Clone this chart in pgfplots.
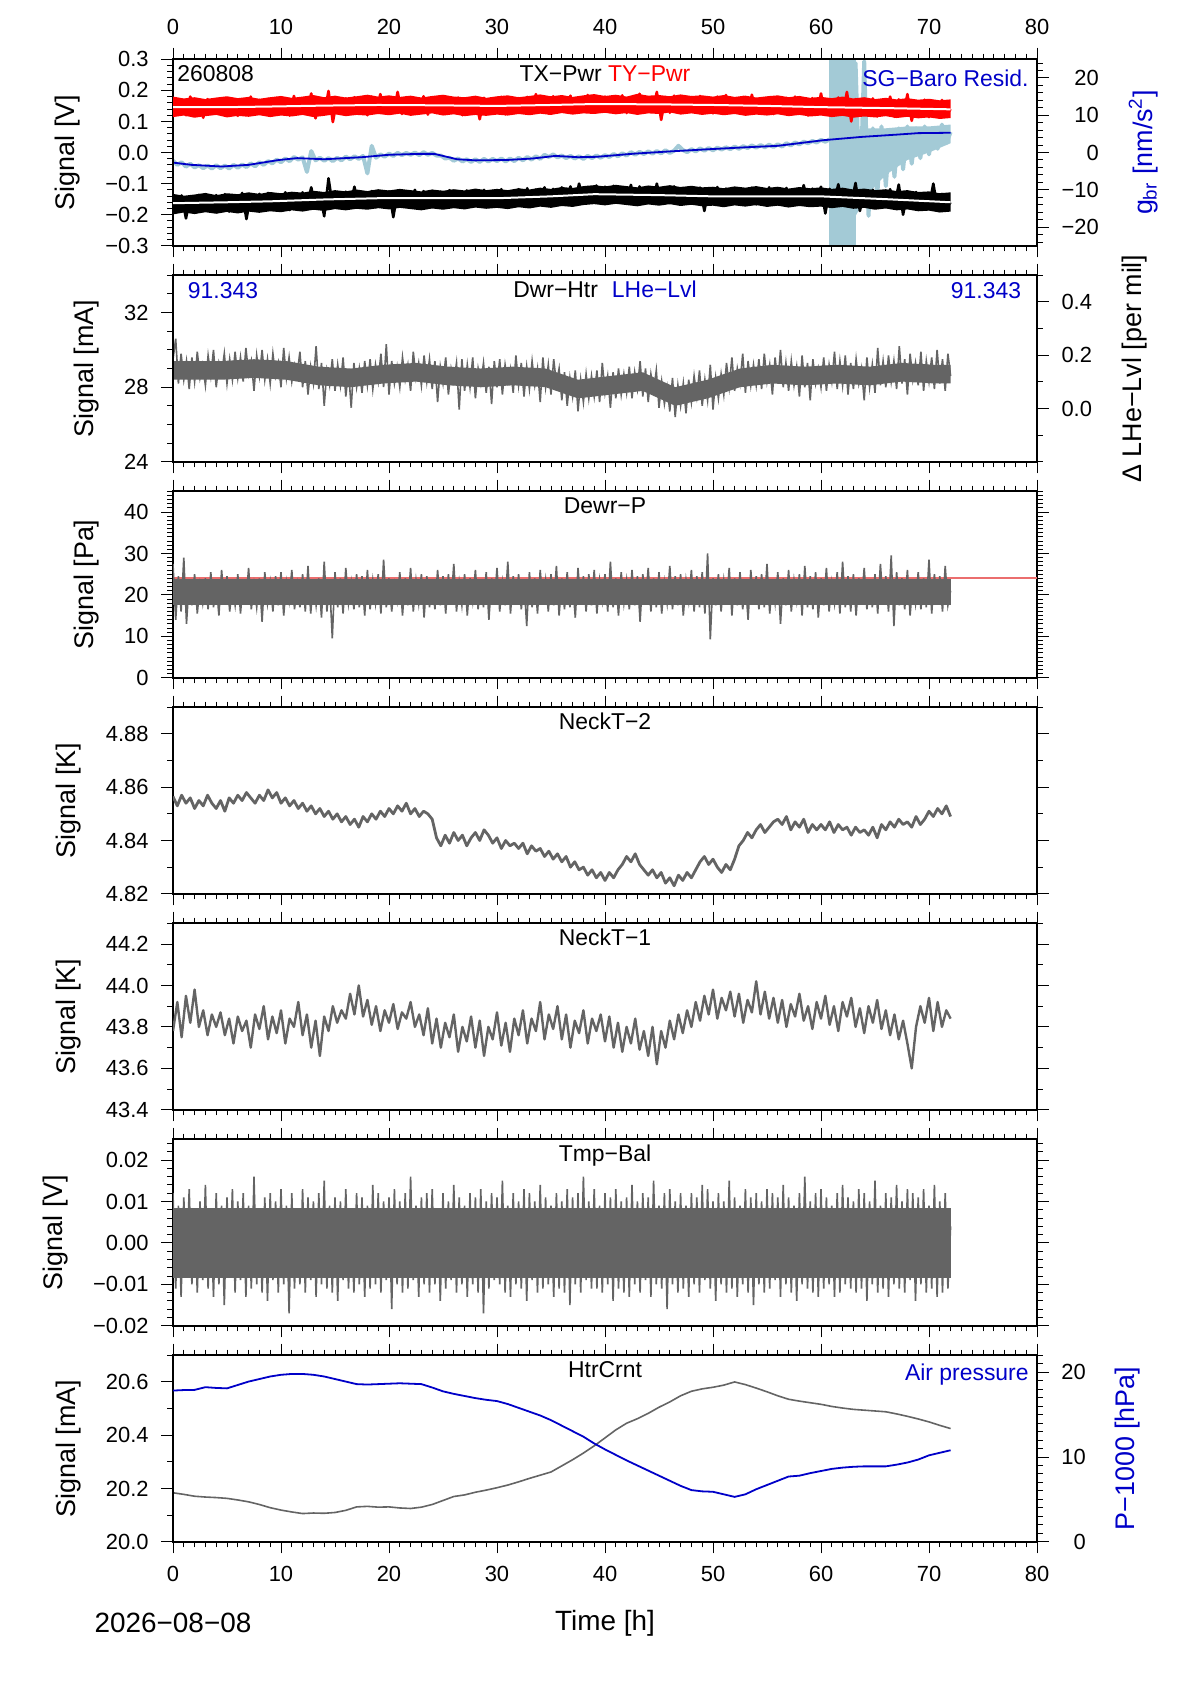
\documentclass[border=0pt]{standalone}
\usepackage{fontspec}
\setmainfont{Liberation Sans}
\usepackage{pgfplots}
\usepackage{pgfplotstable}
\pgfplotsset{compat=1.18}
\definecolor{sgray}{RGB}{100,100,100}
\definecolor{gblue}{RGB}{0,0,200}
\definecolor{lblue}{RGB}{163,202,214}
\definecolor{pred}{RGB}{255,0,0}
\definecolor{lred}{RGB}{235,110,110}
\newcommand\tickfont{\fontsize{11}{13}\selectfont}
\newcommand\ttlfont{\fontsize{11.5}{13}\selectfont}
\newcommand\labfont{\fontsize{13.5}{16}\selectfont}
\newcommand\botfont{\fontsize{14}{16}\selectfont}

% TY-Pwr spikes (step 0.4 h)
\pgfplotstableread[row sep=\\,header=false]{
0.165\\0.125\\0.170\\0.120\\0.180\\0.128\\0.168\\0.112\\0.172\\0.124\\
0.168\\0.126\\0.175\\0.121\\0.166\\0.118\\0.171\\0.127\\0.180\\0.122\\
0.169\\0.125\\0.173\\0.120\\0.176\\0.127\\0.170\\0.119\\0.182\\0.124\\
0.172\\0.128\\0.190\\0.110\\0.175\\0.124\\0.198\\0.098\\0.171\\0.126\\
0.174\\0.129\\0.178\\0.125\\0.173\\0.120\\0.180\\0.130\\0.188\\0.127\\
0.176\\0.128\\0.195\\0.124\\0.178\\0.131\\0.174\\0.126\\0.181\\0.122\\
0.173\\0.127\\0.178\\0.124\\0.171\\0.129\\0.177\\0.120\\0.174\\0.126\\
0.172\\0.107\\0.176\\0.125\\0.170\\0.128\\0.179\\0.123\\0.173\\0.127\\
0.175\\0.130\\0.179\\0.126\\0.188\\0.131\\0.176\\0.125\\0.181\\0.129\\
0.178\\0.133\\0.183\\0.128\\0.177\\0.135\\0.185\\0.130\\0.179\\0.132\\
0.180\\0.130\\0.176\\0.133\\0.184\\0.127\\0.178\\0.131\\0.189\\0.129\\
0.177\\0.132\\0.195\\0.105\\0.179\\0.128\\0.183\\0.131\\0.176\\0.130\\
0.178\\0.129\\0.182\\0.132\\0.175\\0.126\\0.180\\0.130\\0.185\\0.127\\
0.173\\0.128\\0.179\\0.125\\0.186\\0.130\\0.174\\0.127\\0.178\\0.124\\
0.171\\0.126\\0.176\\0.122\\0.180\\0.125\\0.172\\0.119\\0.175\\0.124\\
0.190\\0.121\\0.170\\0.118\\0.177\\0.123\\0.195\\0.100\\0.172\\0.120\\
0.168\\0.119\\0.174\\0.116\\0.167\\0.121\\0.180\\0.115\\0.171\\0.118\\
0.188\\0.102\\0.166\\0.117\\0.170\\0.114\\0.165\\0.118\\0.169\\0.120\\
0.140\\
}\typwr

% TX-Pwr spikes (step 0.4 h)
\pgfplotstableread[row sep=\\,header=false]{
-0.140\\-0.185\\-0.138\\-0.212\\-0.142\\-0.183\\-0.136\\-0.188\\-0.141\\-0.184\\
-0.137\\-0.182\\-0.134\\-0.190\\-0.139\\-0.181\\-0.130\\-0.214\\-0.138\\-0.183\\
-0.133\\-0.178\\-0.130\\-0.181\\-0.135\\-0.176\\-0.128\\-0.185\\-0.132\\-0.179\\
-0.128\\-0.174\\-0.112\\-0.177\\-0.130\\-0.205\\-0.083\\-0.175\\-0.127\\-0.173\\
-0.126\\-0.171\\-0.110\\-0.174\\-0.127\\-0.170\\-0.124\\-0.176\\-0.128\\-0.172\\
-0.125\\-0.208\\-0.122\\-0.172\\-0.126\\-0.169\\-0.120\\-0.174\\-0.124\\-0.171\\
-0.123\\-0.171\\-0.126\\-0.173\\-0.121\\-0.170\\-0.125\\-0.175\\-0.122\\-0.172\\
-0.124\\-0.169\\-0.120\\-0.172\\-0.123\\-0.168\\-0.118\\-0.171\\-0.125\\-0.167\\
-0.118\\-0.165\\-0.115\\-0.168\\-0.119\\-0.163\\-0.112\\-0.166\\-0.117\\-0.162\\
-0.112\\-0.159\\-0.109\\-0.162\\-0.100\\-0.157\\-0.111\\-0.160\\-0.106\\-0.158\\
-0.110\\-0.158\\-0.107\\-0.161\\-0.112\\-0.156\\-0.104\\-0.165\\-0.109\\-0.157\\
-0.112\\-0.162\\-0.100\\-0.160\\-0.115\\-0.163\\-0.109\\-0.159\\-0.114\\-0.161\\
-0.117\\-0.163\\-0.113\\-0.188\\-0.118\\-0.162\\-0.111\\-0.166\\-0.116\\-0.164\\
-0.116\\-0.164\\-0.119\\-0.161\\-0.113\\-0.167\\-0.117\\-0.163\\-0.112\\-0.165\\
-0.118\\-0.163\\-0.114\\-0.166\\-0.119\\-0.162\\-0.105\\-0.167\\-0.116\\-0.164\\
-0.110\\-0.196\\-0.117\\-0.165\\-0.102\\-0.168\\-0.121\\-0.163\\-0.098\\-0.188\\
-0.124\\-0.170\\-0.120\\-0.174\\-0.125\\-0.169\\-0.118\\-0.172\\-0.103\\-0.200\\
-0.130\\-0.176\\-0.127\\-0.179\\-0.131\\-0.175\\-0.100\\-0.181\\-0.133\\-0.177\\
-0.160\\
}\txpwr

% SG-Baro residual, raw (step 0.4 h)
\pgfplotstableread[row sep=\\,header=false]{
-2.2\\-3.3\\-2.6\\-3.8\\-3.0\\-4.0\\-3.4\\-4.2\\-3.5\\-4.3\\
-3.4\\-4.2\\-3.5\\-4.3\\-3.3\\-4.1\\-3.2\\-3.9\\-2.9\\-3.7\\
-2.6\\-3.3\\-2.3\\-2.9\\-1.9\\-2.6\\-1.6\\-2.3\\-1.2\\-1.9\\
-1.3\\-5.2\\0.4\\-2.1\\-1.4\\-2.2\\-1.5\\-2.3\\-1.4\\-2.1\\
-1.1\\-1.8\\-1.0\\-1.7\\-0.9\\-5.6\\1.8\\-1.4\\-0.5\\-1.1\\
-0.3\\-0.9\\-0.1\\-0.7\\-0.1\\-0.6\\0.0\\-0.7\\0.1\\-0.6\\
-0.1\\-0.8\\-0.8\\-1.6\\-1.4\\-2.2\\-1.6\\-2.4\\-1.8\\-2.5\\
-1.8\\-2.5\\-1.7\\-2.4\\-1.7\\-2.3\\-1.6\\-2.4\\-1.6\\-2.3\\
-1.4\\-2.1\\-1.2\\-1.9\\-1.0\\-1.7\\-0.6\\-1.2\\-0.5\\-1.3\\
-0.8\\-1.5\\-0.9\\-1.6\\-1.0\\-1.7\\-0.9\\-1.5\\-0.8\\-1.4\\
-0.7\\-1.2\\-0.4\\-1.0\\-0.2\\-0.8\\0.1\\-0.6\\0.2\\-0.4\\
0.3\\-0.3\\0.4\\-0.2\\0.6\\-0.1\\0.5\\1.8\\0.7\\0.1\\
0.9\\0.3\\1.1\\0.5\\1.2\\0.6\\1.3\\0.8\\1.4\\0.9\\
1.6\\1.0\\1.7\\1.2\\1.9\\1.3\\2.0\\1.4\\2.1\\1.5\\
2.2\\1.6\\2.5\\1.9\\2.7\\2.2\\2.9\\2.5\\3.1\\2.7\\
3.4\\2.9\\3.5\\3.0\\3.7\\3.2\\3.8\\3.4\\24.0\\-14.0\\
24.5\\-17.0\\6.5\\-12.0\\7.0\\-9.0\\6.0\\-6.5\\6.5\\-4.5\\
7.0\\-3.0\\6.5\\-1.5\\7.0\\-0.5\\6.5\\1.0\\7.5\\2.5\\
5.5\\
}\sgres

% Dwr-Htr (step 0.25 h)
\pgfplotstableread[row sep=\\,header=false]{
29.5\\30.6\\28.2\\29.8\\28.4\\29.4\\27.9\\29.6\\28.3\\29.9\\28.5\\29.2\\
28.1\\29.7\\28.6\\30.0\\28.0\\29.3\\28.7\\29.8\\28.2\\29.5\\28.4\\29.9\\
28.5\\29.6\\28.3\\30.1\\28.7\\29.4\\27.8\\29.7\\28.6\\30.0\\28.4\\29.5\\
28.2\\29.8\\28.6\\29.3\\28.0\\30.1\\28.5\\29.6\\28.3\\29.2\\28.7\\29.9\\
28.0\\29.4\\27.6\\29.1\\28.2\\30.2\\27.9\\29.3\\27.0\\28.9\\28.1\\29.5\\
27.8\\29.2\\28.1\\29.6\\27.5\\28.9\\26.9\\29.3\\28.0\\29.0\\27.7\\29.4\\
28.1\\29.5\\27.9\\29.2\\28.3\\29.8\\28.0\\30.3\\27.6\\29.4\\28.2\\29.1\\
28.0\\29.6\\28.4\\29.2\\27.8\\29.9\\28.5\\29.3\\28.1\\29.7\\28.3\\29.5\\
27.9\\29.4\\27.2\\29.1\\28.2\\29.6\\27.6\\29.0\\28.3\\29.3\\26.8\\29.5\\
27.8\\29.2\\28.0\\29.6\\27.4\\29.0\\28.2\\29.3\\27.7\\29.1\\27.1\\29.4\\
28.0\\29.5\\27.6\\29.2\\28.3\\29.0\\27.7\\29.7\\28.1\\29.3\\27.5\\29.1\\
27.9\\29.4\\28.1\\29.0\\27.2\\29.6\\28.0\\29.2\\27.6\\29.5\\28.2\\29.0\\
27.3\\28.8\\27.0\\28.5\\27.5\\28.9\\26.7\\28.4\\27.2\\28.7\\27.4\\28.6\\
27.5\\28.9\\27.2\\29.3\\27.7\\28.6\\26.9\\28.8\\27.4\\29.0\\27.6\\28.7\\
27.7\\29.1\\27.4\\28.8\\27.9\\29.4\\27.5\\29.0\\27.2\\28.7\\27.8\\28.9\\
26.9\\28.3\\27.1\\28.0\\26.7\\28.5\\26.4\\28.1\\27.0\\28.2\\26.6\\28.4\\
27.2\\28.6\\27.5\\28.9\\27.0\\28.4\\27.3\\29.2\\26.8\\28.5\\27.4\\28.7\\
27.6\\29.3\\28.0\\29.6\\27.8\\29.0\\28.2\\29.8\\27.7\\29.4\\28.1\\29.2\\
28.1\\29.5\\27.9\\29.8\\28.3\\29.2\\27.6\\29.6\\28.2\\30.0\\28.0\\29.3\\
27.8\\29.4\\28.1\\29.1\\27.5\\29.7\\28.0\\29.3\\27.3\\29.5\\28.2\\29.0\\
28.0\\29.6\\27.8\\29.2\\28.3\\29.9\\27.9\\29.4\\28.1\\29.7\\27.6\\29.3\\
27.9\\29.5\\28.2\\29.0\\27.3\\29.6\\28.0\\29.2\\27.7\\30.1\\28.1\\29.4\\
28.0\\29.7\\28.3\\29.4\\27.9\\30.2\\28.2\\29.5\\27.6\\29.8\\28.4\\29.3\\
28.1\\29.9\\27.8\\29.4\\28.3\\29.6\\27.9\\30.0\\28.2\\29.5\\27.8\\29.8\\
28.6\\
}\dwrhtr

% Dewr-P (step 0.25 h)
\pgfplotstableread[row sep=\\,header=false]{
27.5\\14.0\\24.5\\16.0\\29.0\\13.0\\23.5\\17.5\\25.0\\15.5\\22.5\\18.0\\
24.0\\16.5\\25.5\\17.0\\23.0\\15.0\\26.0\\18.5\\24.5\\16.0\\22.0\\17.5\\
25.0\\15.5\\23.5\\18.0\\26.5\\16.5\\22.5\\17.0\\24.0\\13.5\\25.5\\18.0\\
23.0\\16.0\\24.5\\17.5\\25.5\\15.0\\23.0\\18.5\\26.0\\16.5\\22.5\\17.0\\
25.0\\16.0\\27.0\\15.5\\23.5\\17.5\\24.0\\14.5\\28.0\\16.0\\23.0\\9.5\\
25.5\\17.0\\24.0\\15.5\\26.5\\18.0\\23.0\\16.5\\25.0\\17.0\\24.5\\15.0\\
26.0\\16.5\\23.5\\18.0\\25.0\\15.5\\28.5\\17.0\\24.0\\16.0\\22.5\\18.5\\
25.5\\15.0\\24.0\\17.5\\26.5\\16.0\\23.5\\18.0\\25.0\\14.5\\24.5\\17.0\\
23.5\\16.5\\26.0\\17.5\\24.5\\15.5\\25.0\\18.0\\27.5\\16.0\\23.0\\17.5\\
25.0\\15.0\\24.0\\18.5\\26.0\\16.5\\23.5\\17.0\\25.5\\14.0\\24.0\\18.0\\
26.5\\16.0\\23.0\\17.5\\28.0\\15.5\\24.5\\18.0\\25.0\\16.5\\23.5\\12.5\\
25.5\\17.0\\24.0\\15.5\\26.0\\18.0\\23.5\\16.0\\25.0\\17.5\\27.0\\15.0\\
24.0\\16.5\\25.5\\17.0\\23.0\\14.5\\26.5\\18.0\\24.5\\16.0\\25.0\\17.5\\
26.0\\15.5\\23.5\\18.5\\25.0\\16.0\\28.0\\17.0\\24.0\\15.0\\25.5\\18.0\\
23.5\\16.5\\26.0\\17.5\\24.5\\13.5\\25.0\\18.0\\26.5\\16.0\\24.0\\17.0\\
25.5\\15.5\\23.0\\18.0\\27.0\\16.5\\24.5\\17.5\\25.0\\15.0\\23.5\\18.5\\
26.0\\16.0\\24.5\\17.0\\25.5\\15.5\\30.0\\9.3\\24.0\\17.5\\25.0\\16.0\\
23.5\\18.0\\26.5\\15.0\\24.0\\17.5\\25.5\\16.5\\23.0\\14.0\\26.0\\18.0\\
24.5\\16.5\\25.0\\17.0\\27.5\\15.5\\23.5\\18.0\\25.5\\13.0\\24.0\\17.5\\
26.0\\16.0\\23.5\\18.5\\25.0\\15.0\\27.0\\17.0\\24.5\\16.5\\25.5\\14.5\\
24.0\\17.5\\26.5\\16.0\\23.0\\18.0\\25.5\\15.5\\28.0\\17.0\\24.5\\16.0\\
25.0\\15.0\\24.0\\18.5\\26.5\\16.5\\23.5\\17.0\\25.0\\15.5\\27.5\\18.0\\
24.5\\16.0\\29.5\\12.5\\25.5\\17.5\\24.0\\16.5\\26.0\\15.0\\23.5\\18.0\\
25.5\\16.5\\24.0\\17.0\\28.5\\15.5\\25.0\\18.0\\24.5\\16.0\\27.0\\17.5\\
21.0\\
}\dewrp

% NeckT-2 (step 0.4 h)
\pgfplotstableread[row sep=\\,header=false]{
4.8565\\4.853\\4.857\\4.854\\4.856\\4.852\\4.855\\4.853\\4.857\\4.854\\
4.852\\4.855\\4.851\\4.856\\4.854\\4.857\\4.855\\4.858\\4.856\\4.854\\
4.857\\4.855\\4.859\\4.856\\4.858\\4.854\\4.856\\4.853\\4.855\\4.852\\
4.854\\4.851\\4.853\\4.850\\4.852\\4.849\\4.851\\4.848\\4.850\\4.847\\
4.849\\4.846\\4.848\\4.845\\4.849\\4.847\\4.850\\4.848\\4.851\\4.849\\
4.852\\4.850\\4.853\\4.851\\4.854\\4.850\\4.852\\4.849\\4.851\\4.850\\
4.848\\4.841\\4.838\\4.842\\4.839\\4.843\\4.840\\4.842\\4.838\\4.841\\
4.843\\4.840\\4.844\\4.842\\4.839\\4.841\\4.837\\4.840\\4.838\\4.839\\
4.837\\4.839\\4.835\\4.838\\4.836\\4.837\\4.834\\4.836\\4.833\\4.835\\
4.832\\4.834\\4.830\\4.832\\4.829\\4.830\\4.827\\4.829\\4.826\\4.828\\
4.825\\4.828\\4.826\\4.829\\4.831\\4.834\\4.832\\4.835\\4.831\\4.829\\
4.827\\4.829\\4.826\\4.828\\4.824\\4.826\\4.823\\4.827\\4.825\\4.828\\
4.826\\4.829\\4.832\\4.834\\4.831\\4.833\\4.830\\4.828\\4.831\\4.829\\
4.833\\4.838\\4.840\\4.843\\4.841\\4.844\\4.846\\4.843\\4.845\\4.847\\
4.848\\4.846\\4.849\\4.844\\4.847\\4.845\\4.848\\4.843\\4.846\\4.844\\
4.846\\4.844\\4.847\\4.843\\4.846\\4.844\\4.845\\4.842\\4.845\\4.843\\
4.844\\4.842\\4.845\\4.841\\4.846\\4.844\\4.847\\4.845\\4.848\\4.846\\
4.847\\4.845\\4.849\\4.846\\4.848\\4.851\\4.849\\4.852\\4.850\\4.853\\
4.849\\
}\neckb

% NeckT-1 (step 0.4 h)
\pgfplotstableread[row sep=\\,header=false]{
43.78\\43.92\\43.75\\43.95\\43.82\\43.98\\43.80\\43.88\\43.76\\43.86\\
43.80\\43.87\\43.76\\43.84\\43.72\\43.85\\43.78\\43.83\\43.70\\43.86\\
43.79\\43.90\\43.74\\43.85\\43.77\\43.88\\43.72\\43.84\\43.80\\43.92\\
43.76\\43.86\\43.70\\43.83\\43.66\\43.85\\43.78\\43.90\\43.82\\43.88\\
43.84\\43.96\\43.86\\44.00\\43.85\\43.93\\43.81\\43.90\\43.78\\43.88\\
43.82\\43.91\\43.79\\43.87\\43.84\\43.92\\43.80\\43.86\\43.76\\43.89\\
43.72\\43.84\\43.70\\43.82\\43.75\\43.86\\43.68\\43.80\\43.73\\43.85\\
43.70\\43.83\\43.66\\43.80\\43.74\\43.87\\43.71\\43.82\\43.68\\43.84\\
43.76\\43.88\\43.72\\43.84\\43.78\\43.92\\43.74\\43.86\\43.79\\43.90\\
43.74\\43.86\\43.70\\43.83\\43.77\\43.88\\43.72\\43.84\\43.78\\43.86\\
43.73\\43.85\\43.70\\43.82\\43.68\\43.80\\43.72\\43.84\\43.69\\43.78\\
43.66\\43.80\\43.62\\43.78\\43.70\\43.83\\43.74\\43.86\\43.77\\43.88\\
43.80\\43.92\\43.83\\43.95\\43.86\\43.98\\43.84\\43.94\\43.88\\43.97\\
43.85\\43.96\\43.82\\43.93\\43.87\\44.02\\43.86\\43.97\\43.84\\43.94\\
43.82\\43.93\\43.80\\43.91\\43.85\\43.96\\43.83\\43.90\\43.79\\43.92\\
43.84\\43.95\\43.81\\43.90\\43.78\\43.92\\43.85\\43.94\\43.80\\43.89\\
43.77\\43.90\\43.82\\43.93\\43.79\\43.88\\43.76\\43.86\\43.74\\43.83\\
43.72\\43.60\\43.80\\43.90\\43.82\\43.94\\43.78\\43.92\\43.80\\43.88\\
43.84\\
}\necka

% Tmp-Bal (step 0.25 h)
\pgfplotstableread[row sep=\\,header=false]{
0.012\\-0.011\\0.009\\-0.013\\0.011\\-0.008\\0.013\\-0.010\\0.007\\-0.012\\0.010\\-0.009\\
0.014\\-0.011\\0.008\\-0.013\\0.012\\-0.010\\0.009\\-0.015\\0.011\\-0.008\\0.013\\-0.012\\
0.010\\-0.009\\0.012\\-0.013\\0.009\\-0.011\\0.016\\-0.010\\0.008\\-0.012\\0.011\\-0.014\\
0.012\\-0.009\\0.010\\-0.012\\0.013\\-0.010\\0.009\\-0.017\\0.012\\-0.011\\0.008\\-0.010\\
0.013\\-0.012\\0.011\\-0.009\\0.010\\-0.013\\0.012\\-0.010\\0.015\\-0.011\\0.009\\-0.012\\
0.011\\-0.014\\0.010\\-0.009\\0.013\\-0.011\\0.008\\-0.012\\0.012\\-0.010\\0.011\\-0.013\\
0.009\\-0.011\\0.014\\-0.010\\0.012\\-0.012\\0.010\\-0.009\\0.011\\-0.016\\0.013\\-0.010\\
0.010\\-0.012\\0.012\\-0.011\\0.016\\-0.009\\0.009\\-0.013\\0.011\\-0.010\\0.012\\-0.012\\
0.013\\-0.010\\0.008\\-0.014\\0.012\\-0.011\\0.010\\-0.009\\0.014\\-0.012\\0.011\\-0.010\\
0.009\\-0.013\\0.012\\-0.010\\0.011\\-0.012\\0.013\\-0.017\\0.010\\-0.011\\0.012\\-0.009\\
0.011\\-0.010\\0.015\\-0.012\\0.009\\-0.013\\0.012\\-0.010\\0.010\\-0.011\\0.013\\-0.014\\
0.012\\-0.009\\0.010\\-0.012\\0.014\\-0.011\\0.011\\-0.010\\0.009\\-0.013\\0.012\\-0.011\\
0.010\\-0.012\\0.013\\-0.015\\0.011\\-0.010\\0.012\\-0.012\\0.016\\-0.009\\0.010\\-0.011\\
0.013\\-0.011\\0.009\\-0.012\\0.012\\-0.010\\0.011\\-0.014\\0.013\\-0.011\\0.010\\-0.012\\
0.011\\-0.013\\0.014\\-0.010\\0.010\\-0.012\\0.012\\-0.009\\0.011\\-0.013\\0.015\\-0.010\\
0.009\\-0.011\\0.012\\-0.016\\0.013\\-0.010\\0.010\\-0.012\\0.012\\-0.011\\0.009\\-0.013\\
0.012\\-0.010\\0.011\\-0.012\\0.014\\-0.009\\0.013\\-0.011\\0.010\\-0.014\\0.012\\-0.010\\
0.010\\-0.012\\0.015\\-0.011\\0.011\\-0.013\\0.009\\-0.010\\0.013\\-0.012\\0.011\\-0.015\\
0.012\\-0.010\\0.010\\-0.012\\0.013\\-0.011\\0.012\\-0.009\\0.011\\-0.013\\0.014\\-0.010\\
0.011\\-0.012\\0.009\\-0.014\\0.012\\-0.010\\0.016\\-0.011\\0.010\\-0.012\\0.012\\-0.013\\
0.013\\-0.011\\0.011\\-0.010\\0.009\\-0.013\\0.012\\-0.012\\0.014\\-0.010\\0.011\\-0.011\\
0.010\\-0.012\\0.013\\-0.011\\0.012\\-0.014\\0.010\\-0.010\\0.015\\-0.012\\0.009\\-0.011\\
0.012\\-0.013\\0.011\\-0.010\\0.014\\-0.011\\0.010\\-0.012\\0.013\\-0.009\\0.012\\-0.014\\
0.011\\-0.010\\0.013\\-0.012\\0.009\\-0.011\\0.014\\-0.013\\0.010\\-0.012\\0.012\\-0.011\\
0.004\\
}\tmpbal

\pgfplotsset{
  panel/.style={
    scale only axis, width=432bp, height=93.25bp, anchor=south west,
    xmin=0, xmax=80,
    xtick={0,10,20,30,40,50,60,70,80},
    minor xtick={0,1,...,80},
    xticklabels={},
    scaled ticks=false,
    tick align=outside,
    major tick length=5.8bp, minor tick length=2.8bp,
    tick style={line width=0.5bp, black},
    axis line style={line width=1.1bp},
    ticklabel style={font=\tickfont, inner sep=0pt},
    xticklabel shift=6.2bp, yticklabel shift=6.2bp,
    ylabel style={font=\labfont, inner sep=0pt},
    ylabel shift=12.3bp,
  },
}
\tikzset{
  ttl/.style={font=\ttlfont, anchor=base, inner sep=0pt, yshift=-11.2bp},
  rlab/.style={font=\labfont, text=gblue, rotate=90, anchor=north, inner sep=0pt},
}

\begin{document}
\begin{tikzpicture}
\path[use as bounding box] (0,0) rectangle (595bp,842bp);

% ---------------- Panel 1 (right axis, drawn first) ----------------
\begin{axis}[panel, at={(86.5bp,719.1bp)}, clip mode=individual, hide x axis, ytick pos=right, yticklabel pos=right,
  ymin=-25, ymax=25, ytick={-20,-10,0,10,20}, yticklabels={−20,−10,0,10,20},
  minor ytick={-24,-22,...,24},
  yticklabel style={text width=18.7bp, align=right}]
\addplot[fill=lblue, draw=none] coordinates {(60.7,-25) (63.2,-25) (63.2,25) (60.7,25)};
\addplot[fill=lblue, draw=none] coordinates {(63.2,6) (64,6.5) (66,6.5) (68,7) (70,7) (72,7.5) (72,2.5) (70,0) (68,-2) (66,-6) (65,-9) (64,-13) (63.2,-17)};
\addplot[lblue, line width=2bp, line join=round] table[x expr=\coordindex*0.4, y index=0] {\sgres};
\addplot[gblue, line width=0.9bp] coordinates {(0,-2.7) (1.7,-3.3) (4.5,-3.75) (7,-3.3) (9.8,-2.0) (11.5,-1.5) (14,-1.8) (17.5,-1.25) (20,-0.6) (22.8,-0.36) (24.2,-0.36) (26.3,-1.8) (28,-2.1) (30.9,-2.0) (33.3,-1.6) (35.4,-0.9) (37.5,-1.25) (39.2,-1.15) (42.7,-0.3) (46,0.3) (49.7,0.9) (53,1.4) (56,1.8) (60.2,3.3) (63.8,4.2) (67,4.8) (69,5.2) (72,5.3)};
\node[ttl, anchor=base east, xshift=-4bp, yshift=-2.3bp, text=gblue] at (rel axis cs:1,1) {SG−Baro Resid.};
\node[xshift=45.7bp, rlab] at (rel axis cs:1,0.5) {g\textsubscript{br} [nm/s\textsuperscript{2}]};
\end{axis}
\begin{axis}[panel, at={(86.5bp,719.1bp)}, ytick pos=left,
  xticklabel pos=right, xticklabels={0,10,20,30,40,50,60,70,80},
  ymin=-0.3, ymax=0.3, ytick={-0.3,-0.2,-0.1,0,0.1,0.2,0.3},
  yticklabels={−0.3,−0.2,−0.1,0.0,0.1,0.2,0.3}, minor y tick num=4,
  ylabel={Signal [V]}]
\addplot[fill=pred, draw=none] coordinates {(0,.180) (1,.174) (2,.178) (3,.172) (4,.177) (5,.181) (6,.175) (7,.179) (8,.173) (9,.178) (10,.182) (11,.176) (12,.180) (13,.185) (14,.178) (15,.183) (16,.177) (17,.181) (18,.186) (19,.180) (20,.184) (21,.179) (22,.183) (23,.177) (24,.182) (25,.186) (26,.180) (27,.178) (28,.183) (29,.176) (30,.181) (31,.184) (32,.178) (33,.182) (34,.187) (35,.181) (36,.185) (37,.179) (38,.184) (39,.188) (40,.182) (41,.186) (42,.180) (43,.189) (44,.183) (45,.185) (46,.181) (47,.187) (48,.182) (49,.184) (50,.180) (51,.185) (52,.179) (53,.183) (54,.177) (55,.181) (56,.184) (57,.178) (58,.182) (59,.176) (60,.179) (61,.175) (62,.180) (63,.174) (64,.178) (65,.172) (66,.176) (67,.171) (68,.175) (69,.170) (70,.173) (71,.168) (72,.171)
 (72,.111) (71,.108) (70,.113) (69,.110) (68,.115) (67,.111) (66,.117) (65,.113) (64,.116) (63,.112) (62,.118) (61,.114) (60,.119) (59,.116) (58,.121) (57,.117) (56,.123) (55,.119) (54,.122) (53,.118) (52,.124) (51,.120) (50,.125) (49,.121) (48,.126) (47,.122) (46,.129) (45,.124) (44,.126) (43,.121) (42,.127) (41,.123) (40,.128) (39,.124) (38,.126) (37,.122) (36,.127) (35,.121) (34,.125) (33,.120) (32,.124) (31,.119) (30,.122) (29,.118) (28,.121) (27,.117) (26,.123) (25,.119) (24,.126) (23,.122) (22,.118) (21,.125) (20,.120) (19,.124) (18,.119) (17,.121) (16,.117) (15,.123) (14,.118) (13,.114) (12,.121) (11,.116) (10,.119) (9,.114) (8,.120) (7,.115) (6,.118) (5,.113) (4,.121) (3,.117) (2,.112) (1,.119) (0,.114)};
\addplot[pred, line width=1.3bp, line join=round] table[x expr=\coordindex*0.4, y index=0] {\typwr};
\addplot[white, line width=1bp] coordinates {(0,0.146) (5,0.146) (9,0.148) (14,0.151) (19,0.153) (24,0.152) (30,0.150) (35,0.153) (39,0.156) (45,0.155) (50,0.153) (55,0.150) (60,0.146) (66,0.143) (72,0.139)};
\addplot[fill=black, draw=none] coordinates {(0,-.133) (1,-.139) (2,-.135) (3,-.130) (4,-.137) (5,-.131) (6,-.134) (7,-.128) (8,-.133) (9,-.127) (10,-.131) (11,-.126) (12,-.129) (13,-.123) (14,-.127) (15,-.121) (16,-.125) (17,-.119) (18,-.124) (19,-.118) (20,-.122) (21,-.117) (22,-.121) (23,-.125) (24,-.119) (25,-.123) (26,-.118) (27,-.122) (28,-.116) (29,-.121) (30,-.117) (31,-.121) (32,-.115) (33,-.119) (34,-.113) (35,-.117) (36,-.111) (37,-.114) (38,-.108) (39,-.105) (40,-.109) (41,-.104) (42,-.108) (43,-.112) (44,-.106) (45,-.110) (46,-.105) (47,-.111) (48,-.107) (49,-.112) (50,-.110) (51,-.115) (52,-.109) (53,-.113) (54,-.108) (55,-.114) (56,-.110) (57,-.116) (58,-.111) (59,-.115) (60,-.112) (61,-.117) (62,-.113) (63,-.119) (64,-.116) (65,-.121) (66,-.118) (67,-.124) (68,-.121) (69,-.127) (70,-.125) (71,-.131) (72,-.128)
 (72,-.190) (71,-.193) (70,-.187) (69,-.189) (68,-.183) (67,-.186) (66,-.180) (65,-.184) (64,-.178) (63,-.181) (62,-.175) (61,-.179) (60,-.174) (59,-.176) (58,-.172) (57,-.177) (56,-.171) (55,-.175) (54,-.169) (53,-.174) (52,-.170) (51,-.176) (50,-.171) (49,-.173) (48,-.168) (47,-.172) (46,-.166) (45,-.171) (44,-.167) (43,-.173) (42,-.169) (41,-.165) (40,-.170) (39,-.166) (38,-.169) (37,-.175) (36,-.172) (35,-.178) (34,-.174) (33,-.180) (32,-.176) (31,-.182) (30,-.178) (29,-.181) (28,-.177) (27,-.183) (26,-.179) (25,-.184) (24,-.180) (23,-.186) (22,-.182) (21,-.178) (20,-.183) (19,-.179) (18,-.184) (17,-.181) (16,-.186) (15,-.182) (14,-.188) (13,-.184) (12,-.190) (11,-.186) (10,-.192) (9,-.189) (8,-.194) (7,-.190) (6,-.196) (5,-.191) (4,-.197) (3,-.192) (2,-.198) (1,-.193) (0,-.199)};
\addplot[black, line width=1.3bp, line join=round] table[x expr=\coordindex*0.4, y index=0] {\txpwr};
\addplot[white, line width=1bp] coordinates {(0,-0.163) (5,-0.160) (9,-0.157) (14,-0.151) (19,-0.147) (25,-0.147) (30,-0.147) (35,-0.141) (39,-0.134) (45,-0.137) (50,-0.141) (55,-0.141) (60,-0.141) (66,-0.150) (72,-0.160)};
\node[ttl] at (rel axis cs:0.5,1) {TX−Pwr \textcolor{pred}{TY−Pwr}};
\node[ttl, anchor=base west, xshift=2bp] at (rel axis cs:0,1) {260808};
\end{axis}

% ---------------- Panel 2 ----------------
\begin{axis}[panel, at={(86.5bp,611.1bp)}, ytick pos=left,
  ymin=24, ymax=34, ytick={24,28,32}, yticklabels={24,28,32},
  minor ytick={25,26,27,29,30,31,33,34}, ylabel={Signal [mA]}]
\addplot[fill=sgray, draw=none] coordinates {(0,29.4) (1.5,29.4) (4.5,29.4) (7.5,29.5) (10.5,29.4) (13.5,29.1) (16.5,29.0) (19.5,29.2) (22.5,29.3) (25.5,29.1) (28.5,29.0) (31.5,29.1) (34.5,29.0) (37.5,28.4) (40.5,28.6) (43.5,28.8) (46.5,28.0) (49.5,28.4) (52.5,29.0) (55.5,29.2) (58.5,29.1) (61.5,29.2) (64.5,29.1) (67.5,29.3) (70.5,29.2) (72,29.2) (72,28.2) (70.5,28.2) (67.5,28.3) (64.5,28.1) (61.5,28.2) (58.5,28.1) (55.5,28.2) (52.5,28.0) (49.5,27.4) (46.5,27.0) (43.5,27.8) (40.5,27.6) (37.5,27.4) (34.5,28.0) (31.5,28.1) (28.5,28.0) (25.5,28.1) (22.5,28.3) (19.5,28.2) (16.5,28.0) (13.5,28.1) (10.5,28.4) (7.5,28.5) (4.5,28.4) (1.5,28.4) (0,28.4)};
\addplot[sgray, line width=0.8bp] table[x expr=\coordindex*0.25, y index=0] {\dwrhtr};
\node[ttl] at (rel axis cs:0.5,1) {Dwr−Htr\hspace{7bp}\textcolor{gblue}{LHe−Lvl}};
\node[ttl, anchor=base west, xshift=7.3bp, yshift=-0.5bp, text=gblue] at (rel axis cs:0,1) {91.343};
\node[ttl, anchor=base east, xshift=-7.8bp, yshift=-0.5bp, text=gblue] at (rel axis cs:1,1) {91.343};
\end{axis}
\begin{axis}[panel, at={(86.5bp,611.1bp)}, clip mode=individual, hide x axis, ytick pos=right, yticklabel pos=right,
  ymin=-0.2, ymax=0.5, ytick={0,0.2,0.4}, yticklabels={0.0,0.2,0.4},
  minor ytick={-0.2,-0.1,0.1,0.3,0.5},
  yticklabel style={text width=15.3bp, align=right}]
\addplot[draw=none, forget plot] coordinates {(0,0.1) (72,0.1)};
\node[xshift=42.3bp, rlab, text=black] at (rel axis cs:1,0.5) {Δ LHe−Lvl [per mil]};
\end{axis}

% ---------------- Panel 3 ----------------
\begin{axis}[panel, at={(86.5bp,503.1bp)},
  ymin=0, ymax=45, ytick={0,10,20,30,40}, yticklabels={0,10,20,30,40},
  minor ytick={0,1,...,45}, ylabel={Signal [Pa]}]
\addplot[lred, line width=0.6bp] coordinates {(0,24.1) (80,24.1)};
\addplot[fill=sgray, draw=none] coordinates {(0,17.6) (72,17.6) (72,23.8) (0,23.8)};
\addplot[sgray, line width=0.8bp] table[x expr=\coordindex*0.25, y index=0] {\dewrp};
\node[ttl] at (rel axis cs:0.5,1) {Dewr−P};
\end{axis}

% ---------------- Panel 4 ----------------
\begin{axis}[panel, at={(86.5bp,395.1bp)},
  ymin=4.82, ymax=4.89, ytick={4.82,4.84,4.86,4.88}, yticklabels={4.82,4.84,4.86,4.88},
  minor ytick={4.83,4.85,4.87,4.89}, ylabel={Signal [K]}]
\addplot[sgray, line width=1.4bp, line join=round] table[x expr=\coordindex*0.4, y index=0] {\neckb};
\node[ttl] at (rel axis cs:0.5,1) {NeckT−2};
\end{axis}

% ---------------- Panel 5 ----------------
\begin{axis}[panel, at={(86.5bp,287.1bp)},
  ymin=43.4, ymax=44.3, ytick={43.4,43.6,43.8,44.0,44.2}, yticklabels={43.4,43.6,43.8,44.0,44.2},
  minor ytick={43.5,43.7,43.9,44.1,44.3}, ylabel={Signal [K]}]
\addplot[sgray, line width=1.2bp, line join=round] table[x expr=\coordindex*0.4, y index=0] {\necka};
\node[ttl] at (rel axis cs:0.5,1) {NeckT−1};
\end{axis}

% ---------------- Panel 6 ----------------
\begin{axis}[panel, at={(86.5bp,179.1bp)},
  ymin=-0.02, ymax=0.025, ytick={-0.02,-0.01,0,0.01,0.02}, yticklabels={−0.02,−0.01,0.00,0.01,0.02},
  minor ytick={-0.018,-0.016,-0.014,-0.012,-0.008,-0.006,-0.004,-0.002,0.002,0.004,0.006,0.008,0.012,0.014,0.016,0.018,0.022,0.024},
  ylabel={Signal [V]}]
\addplot[fill=sgray, draw=none] coordinates {(0,-0.0085) (72,-0.0085) (72,0.0085) (0,0.0085)};
\addplot[sgray, line width=0.8bp] table[x expr=\coordindex*0.25, y index=0] {\tmpbal};
\node[ttl] at (rel axis cs:0.5,1) {Tmp−Bal};
\end{axis}

% ---------------- Panel 7 ----------------
\begin{axis}[panel, at={(86.5bp,71.1bp)}, clip mode=individual, ytick pos=left,
  xticklabels={0,10,20,30,40,50,60,70,80},
  ymin=20, ymax=20.7, ytick={20,20.2,20.4,20.6}, yticklabels={20.0,20.2,20.4,20.6},
  minor ytick={20.1,20.3,20.5,20.7}, ylabel={Signal [mA]}]
\addplot[sgray, line width=0.8bp] coordinates {(0,20.184) (1,20.178) (2,20.171) (3,20.168) (4,20.166) (5,20.163) (6,20.157) (7,20.150) (8,20.140) (9,20.128) (10,20.119) (11,20.112) (12,20.106) (13,20.108) (14,20.107) (15,20.110) (16,20.118) (17,20.131) (18,20.133) (19,20.130) (20,20.131) (21,20.127) (22,20.125) (23,20.130) (24,20.140) (25,20.155) (26,20.170) (27,20.176) (28,20.186) (29,20.194) (30,20.203) (31,20.213) (32,20.225) (33,20.238) (34,20.250) (35,20.262) (36,20.285) (37,20.308) (38,20.333) (39,20.360) (40,20.390) (41,20.420) (42,20.445) (43,20.462) (44,20.482) (45,20.505) (46,20.525) (47,20.548) (48,20.565) (49,20.574) (50,20.580) (51,20.588) (52,20.600) (53,20.590) (54,20.577) (55,20.563) (56,20.548) (57,20.535) (58,20.528) (59,20.522) (60,20.516) (61,20.508) (62,20.502) (63,20.497) (64,20.494) (65,20.491) (66,20.488) (67,20.480) (68,20.471) (69,20.461) (70,20.450) (71,20.437) (72,20.425)};
\node[ttl] at (rel axis cs:0.5,1) {HtrCrnt};
\node[font=\botfont, anchor=base, yshift=-44.1bp] at (rel axis cs:0.5,0) {Time [h]};
\node[font=\botfont, anchor=base, yshift=-45.5bp] at (rel axis cs:0,0) {2026−08−08};
\end{axis}
\begin{axis}[panel, at={(86.5bp,71.1bp)}, clip mode=individual, hide x axis, ytick pos=right, yticklabel pos=right,
  ymin=0, ymax=22, ytick={0,10,20}, yticklabels={0,10,20},
  minor ytick={0,1,...,22},
  yticklabel style={text width=12.2bp, align=right}]
\addplot[gblue, line width=0.9bp] coordinates {(0,17.84) (1,17.9) (2,17.92) (3,18.24) (4,18.15) (5,18.1) (6,18.5) (7,18.9) (8,19.2) (9,19.5) (10,19.7) (11,19.8) (12,19.8) (13,19.7) (14,19.5) (15,19.2) (16,18.9) (17,18.6) (18,18.55) (19,18.6) (20,18.65) (21,18.7) (22,18.65) (23,18.6) (24,18.2) (25,17.75) (26,17.45) (27,17.2) (28,16.95) (29,16.75) (30,16.6) (31,16.25) (32,15.8) (33,15.35) (34,14.9) (35,14.35) (36,13.7) (37,13.05) (38,12.4) (39,11.6) (40,10.9) (41,10.25) (42,9.6) (43,9.0) (44,8.4) (45,7.8) (46,7.2) (47,6.6) (48,6.1) (49,5.95) (50,5.9) (51,5.6) (52,5.3) (53,5.6) (54,6.2) (55,6.7) (56,7.2) (57,7.7) (58,7.8) (59,8.1) (60,8.35) (61,8.6) (62,8.75) (63,8.85) (64,8.9) (65,8.9) (66,8.9) (67,9.1) (68,9.35) (69,9.7) (70,10.2) (71,10.5) (72,10.8)};
\node[ttl, anchor=base east, xshift=-4bp, yshift=-1.3bp, text=gblue] at (rel axis cs:1,1) {Air pressure};
\node[xshift=39bp, rlab] at (rel axis cs:1,0.5) {P−1000 [hPa]};
\end{axis}
\end{tikzpicture}
\end{document}
